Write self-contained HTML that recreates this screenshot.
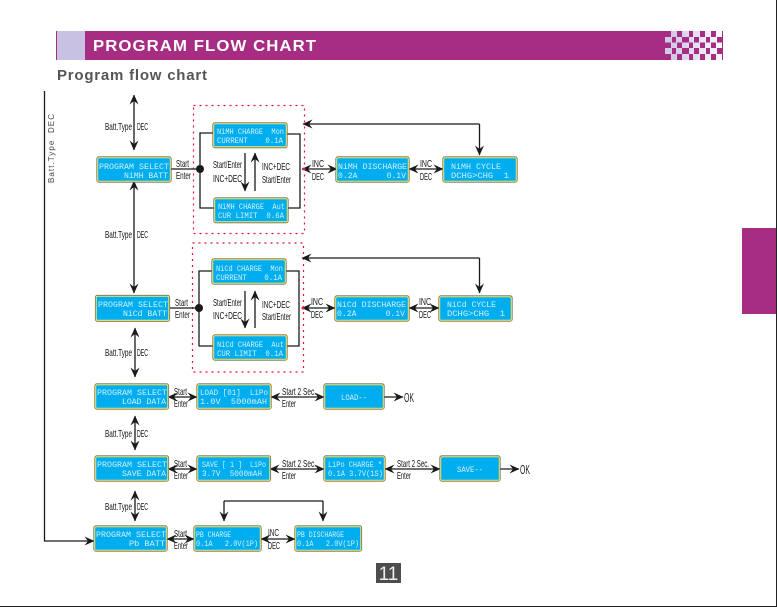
<!DOCTYPE html>
<html><head><meta charset="utf-8"><style>
html,body{margin:0;padding:0;background:#fff}
svg{display:block}
text{white-space:pre}
.l{font-family:"Liberation Sans",sans-serif;font-size:10.5px;fill:#111}
.d{font-family:"Liberation Mono",monospace;font-size:8.5px;fill:#d2f0fd}
.b{fill:#00aeef;stroke:#f4ec70;stroke-width:1.4}
.o{fill:none;stroke:#6b6b55;stroke-width:.8}
.c{fill:none;stroke:#1a1a1a;stroke-width:1.3}
.a{fill:none;stroke:#1a1a1a;stroke-width:1.3;marker-start:url(#m);marker-end:url(#m)}
.e{fill:none;stroke:#1a1a1a;stroke-width:1.3;marker-end:url(#m)}
.r{fill:none;stroke:#e8112d;stroke-width:1.2;stroke-dasharray:2 4}
</style></head><body>
<svg width="777" height="607" viewBox="0 0 777 607" xmlns="http://www.w3.org/2000/svg">
<defs>
<marker id="m" markerUnits="userSpaceOnUse" markerWidth="10" markerHeight="9" refX="9.5" refY="4.5" orient="auto-start-reverse" viewBox="0 0 10 9"><path d="M10,4.5 L0,0 L3.5,4.5 L0,9 Z" fill="#1a1a1a"/></marker>
<linearGradient id="ck" x1="0" x2="1" y1="0" y2="0"><stop offset="0" stop-color="#cfc8e8"/><stop offset=".6" stop-color="#e8e5f4"/><stop offset="1" stop-color="#fbfaff"/></linearGradient>
</defs>
<rect width="777" height="607" fill="#fff"/>
<rect x="776" y="0" width="1" height="607" fill="#222"/>
<rect x="0" y="606" width="777" height="1" fill="#222"/>
<rect x="742" y="228" width="34" height="86" fill="#a62d82"/>

<rect x="56" y="31" width="615" height="29" fill="#a62d82"/>
<rect x="57" y="31" width="28" height="29" fill="#c9c1e4"/>
<text transform="translate(93,51) scale(1.08,1)" font-family="Liberation Sans,sans-serif" font-weight="bold" font-size="15.5" fill="#fff" textLength="206.5" lengthAdjust="spacing">PROGRAM FLOW CHART</text>

<rect x="671" y="31" width="51" height="29" fill="url(#ck)"/>
<rect x="665" y="37" width="6" height="5.5" fill="#d0cae8"/><rect x="665" y="48" width="6" height="6" fill="#d0cae8"/>
<g fill="#a62d82">
<rect x="677" y="31" width="5" height="6"/><rect x="689" y="31" width="4" height="6"/><rect x="700" y="31" width="5" height="6"/><rect x="711" y="31" width="5" height="6"/><rect x="722" y="31" width="1" height="29"/>
<rect x="672" y="37" width="4" height="5.5"/><rect x="682" y="37" width="7" height="5.5"/><rect x="694" y="37" width="5" height="5.5"/><rect x="706" y="37" width="4" height="5.5"/><rect x="717" y="37" width="5" height="5.5"/>
<rect x="677" y="42.5" width="5" height="5.5"/><rect x="689" y="42.5" width="4" height="5.5"/><rect x="700" y="42.5" width="5" height="5.5"/><rect x="711" y="42.5" width="5" height="5.5"/>
<rect x="672" y="48" width="4" height="6"/><rect x="682" y="48" width="7" height="6"/><rect x="694" y="48" width="5" height="6"/><rect x="706" y="48" width="4" height="6"/><rect x="717" y="48" width="5" height="6"/>
<rect x="677" y="54" width="5" height="6"/><rect x="689" y="54" width="4" height="6"/><rect x="700" y="54" width="5" height="6"/><rect x="711" y="54" width="5" height="6"/>
</g>
<text x="57" y="80" font-family="Liberation Sans,sans-serif" font-weight="bold" font-size="15" fill="#555" textLength="150" lengthAdjust="spacing">Program flow chart</text>

<!-- left rail -->
<path class="e" d="M44.5,91 V541 H94"/>
<text transform="translate(54,183) rotate(-90)" font-family="Liberation Sans,sans-serif" font-size="8" fill="#444" textLength="69" lengthAdjust="spacing">Batt.Type  DEC</text>

<!-- vertical arrows -->
<path class="a" d="M134,95 V150"/><path class="a" d="M134,181 V293"/><path class="a" d="M135,328 V377"/><path class="a" d="M135,416 V450"/><path class="a" d="M135,491 V521"/>
<g class="l">
<text x="105" y="130" textLength="27" lengthAdjust="spacingAndGlyphs">Batt.Type</text><text x="137" y="130" textLength="11" lengthAdjust="spacingAndGlyphs">DEC</text>
<text x="105" y="238" textLength="27" lengthAdjust="spacingAndGlyphs">Batt.Type</text><text x="137" y="238" textLength="11" lengthAdjust="spacingAndGlyphs">DEC</text>
<text x="105" y="356" textLength="27" lengthAdjust="spacingAndGlyphs">Batt.Type</text><text x="137" y="356" textLength="11" lengthAdjust="spacingAndGlyphs">DEC</text>
<text x="105" y="437" textLength="27" lengthAdjust="spacingAndGlyphs">Batt.Type</text><text x="137" y="437" textLength="11" lengthAdjust="spacingAndGlyphs">DEC</text>
<text x="105" y="510" textLength="27" lengthAdjust="spacingAndGlyphs">Batt.Type</text><text x="137" y="510" textLength="11" lengthAdjust="spacingAndGlyphs">DEC</text>
</g>

<!-- dotted groups -->
<rect class="r" x="193.5" y="105.5" width="111" height="128"/>
<rect class="r" x="192.5" y="243" width="111" height="129"/>

<!-- NiMH connectors -->
<path class="c" d="M171,169 H200 M214,133 H200 V208 H214 M287,134 H300 V208 H288"/>
<circle cx="200" cy="169" r="4" fill="#1a1a1a"/>
<path class="e" d="M245,153 V191"/><path class="e" d="M255,191 V153"/>
<path class="e" d="M479.5,124 H303"/><path class="e" d="M479.5,124 V155"/>
<path class="a" d="M302,169 H337"/><path class="a" d="M409,169 H443"/>
<circle cx="304" cy="169" r="1.5" fill="#e0203a"/>

<!-- NiCd connectors -->
<path class="c" d="M169,308 H199 M212,271 H199 V346 H213 M286,271 H299 V346 H287"/>
<circle cx="199" cy="308" r="4" fill="#1a1a1a"/>
<path class="e" d="M245,291 V328"/><path class="e" d="M255,328 V291"/>
<path class="e" d="M479.5,258 H302"/><path class="e" d="M479.5,258 V293"/>
<path class="a" d="M302,308 H335"/><path class="a" d="M409,308 H439"/>
<circle cx="303" cy="308" r="1.5" fill="#e0203a"/>

<!-- rows -->
<path class="a" d="M168,397 H197"/><path class="a" d="M271,397 H324"/><path class="e" d="M384,397 H403"/>
<path class="a" d="M168,469 H197"/><path class="a" d="M270,469 H324"/><path class="a" d="M385,469 H440"/><path class="e" d="M500,469 H519"/>
<path class="a" d="M167,539 H194"/><path class="a" d="M261,539 H295"/>
<path class="c" d="M224,501 H323"/><path class="e" d="M224,501 V521"/><path class="e" d="M323,501 V521"/>

<!-- labels -->
<g class="l">
<text x="176" y="167" textLength="13" lengthAdjust="spacingAndGlyphs">Start</text><text x="176" y="179" textLength="15" lengthAdjust="spacingAndGlyphs">Enter</text>
<text x="213" y="168" textLength="29" lengthAdjust="spacingAndGlyphs">Start/Enter</text><text x="213" y="182" textLength="29" lengthAdjust="spacingAndGlyphs">INC+DEC</text>
<text x="262" y="170" textLength="28" lengthAdjust="spacingAndGlyphs">INC+DEC</text><text x="262" y="183" textLength="29" lengthAdjust="spacingAndGlyphs">Start/Enter</text>
<text x="312" y="167" textLength="12" lengthAdjust="spacingAndGlyphs">INC</text><text x="312" y="180" textLength="12" lengthAdjust="spacingAndGlyphs">DEC</text>
<text x="420" y="167" textLength="12" lengthAdjust="spacingAndGlyphs">INC</text><text x="420" y="180" textLength="12" lengthAdjust="spacingAndGlyphs">DEC</text>

<text x="175" y="306" textLength="13" lengthAdjust="spacingAndGlyphs">Start</text><text x="175" y="318" textLength="15" lengthAdjust="spacingAndGlyphs">Enter</text>
<text x="213" y="306" textLength="29" lengthAdjust="spacingAndGlyphs">Start/Enter</text><text x="213" y="319" textLength="29" lengthAdjust="spacingAndGlyphs">INC+DEC</text>
<text x="262" y="308" textLength="28" lengthAdjust="spacingAndGlyphs">INC+DEC</text><text x="262" y="320" textLength="29" lengthAdjust="spacingAndGlyphs">Start/Enter</text>
<text x="311" y="305" textLength="12" lengthAdjust="spacingAndGlyphs">INC</text><text x="311" y="318" textLength="12" lengthAdjust="spacingAndGlyphs">DEC</text>
<text x="419" y="305" textLength="12" lengthAdjust="spacingAndGlyphs">INC</text><text x="419" y="318" textLength="12" lengthAdjust="spacingAndGlyphs">DEC</text>

<text x="174" y="395" textLength="13" lengthAdjust="spacingAndGlyphs">Start</text><text x="174" y="407" textLength="14" lengthAdjust="spacingAndGlyphs">Enter</text>
<text x="282" y="395" textLength="34" lengthAdjust="spacingAndGlyphs">Start 2 Sec.</text><text x="282" y="407" textLength="14" lengthAdjust="spacingAndGlyphs">Enter</text>

<text x="174" y="467" textLength="13" lengthAdjust="spacingAndGlyphs">Start</text><text x="174" y="479" textLength="14" lengthAdjust="spacingAndGlyphs">Enter</text>
<text x="282" y="467" textLength="34" lengthAdjust="spacingAndGlyphs">Start 2 Sec.</text><text x="282" y="479" textLength="14" lengthAdjust="spacingAndGlyphs">Enter</text>
<text x="397" y="467" textLength="32" lengthAdjust="spacingAndGlyphs">Start 2 Sec.</text><text x="397" y="479" textLength="14" lengthAdjust="spacingAndGlyphs">Enter</text>

<text x="174" y="537" textLength="13" lengthAdjust="spacingAndGlyphs">Start</text><text x="174" y="549" textLength="14" lengthAdjust="spacingAndGlyphs">Enter</text>
<text x="268" y="536" textLength="11" lengthAdjust="spacingAndGlyphs">INC</text><text x="268" y="549" textLength="12" lengthAdjust="spacingAndGlyphs">DEC</text>
</g>
<text x="404" y="402" font-family="Liberation Sans,sans-serif" font-size="13" fill="#222" textLength="10" lengthAdjust="spacingAndGlyphs">OK</text>
<text x="520" y="474" font-family="Liberation Sans,sans-serif" font-size="13" fill="#222" textLength="10" lengthAdjust="spacingAndGlyphs">OK</text>

<!-- LCD boxes -->
<g>
<rect class="b" x="97.5" y="157.5" width="73" height="24" rx="1.5"/><rect class="o" x="96.8" y="156.8" width="74.4" height="25.4" rx="2"/>
<rect class="b" x="213.5" y="123.5" width="73" height="23.5" rx="1.5"/><rect class="o" x="212.8" y="122.8" width="74.4" height="25" rx="2"/>
<rect class="b" x="214.5" y="198.5" width="73" height="23.5" rx="1.5"/><rect class="o" x="213.8" y="197.8" width="74.4" height="25" rx="2"/>
<rect class="b" x="336.5" y="157.5" width="72" height="24" rx="1.5"/><rect class="o" x="335.8" y="156.8" width="73.4" height="25.4" rx="2"/>
<rect class="b" x="443.5" y="157.5" width="73" height="24" rx="1.5"/><rect class="o" x="442.8" y="156.8" width="74.4" height="25.4" rx="2"/>

<rect class="b" x="96" y="296" width="73" height="24.5" rx="1.5"/><rect class="o" x="95.3" y="295.3" width="74.4" height="26" rx="2"/>
<rect class="b" x="212.5" y="259.5" width="73" height="24" rx="1.5"/><rect class="o" x="211.8" y="258.8" width="74.4" height="25.4" rx="2"/>
<rect class="b" x="213.5" y="335.5" width="73" height="24" rx="1.5"/><rect class="o" x="212.8" y="334.8" width="74.4" height="25.4" rx="2"/>
<rect class="b" x="335.5" y="296.5" width="73" height="24" rx="1.5"/><rect class="o" x="334.8" y="295.8" width="74.4" height="25.4" rx="2"/>
<rect class="b" x="439.5" y="296.5" width="72" height="24" rx="1.5"/><rect class="o" x="438.8" y="295.8" width="73.4" height="25.4" rx="2"/>

<rect class="b" x="95.5" y="384.5" width="72.5" height="24" rx="1.5"/><rect class="o" x="94.8" y="383.8" width="73.9" height="25.4" rx="2"/>
<rect class="b" x="197.5" y="384.5" width="73" height="24" rx="1.5"/><rect class="o" x="196.8" y="383.8" width="74.4" height="25.4" rx="2"/>
<rect class="b" x="324.5" y="384.5" width="59" height="24" rx="1.5"/><rect class="o" x="323.8" y="383.8" width="60.4" height="25.4" rx="2"/>

<rect class="b" x="95.5" y="456.5" width="72.5" height="24" rx="1.5"/><rect class="o" x="94.8" y="455.8" width="73.9" height="25.4" rx="2"/>
<rect class="b" x="197.5" y="456.5" width="72.5" height="24" rx="1.5"/><rect class="o" x="196.8" y="455.8" width="73.9" height="25.4" rx="2"/>
<rect class="b" x="324.5" y="456.5" width="60" height="24" rx="1.5"/><rect class="o" x="323.8" y="455.8" width="61.4" height="25.4" rx="2"/>
<rect class="b" x="440.5" y="456.5" width="59" height="24" rx="1.5"/><rect class="o" x="439.8" y="455.8" width="60.4" height="25.4" rx="2"/>

<rect class="b" x="94.5" y="526.5" width="72" height="24" rx="1.5"/><rect class="o" x="93.8" y="525.8" width="73.4" height="25.4" rx="2"/>
<rect class="b" x="194.5" y="526.5" width="66" height="24" rx="1.5"/><rect class="o" x="193.8" y="525.8" width="67.4" height="25.4" rx="2"/>
<rect class="b" x="295.5" y="526.5" width="65.5" height="24" rx="1.5"/><rect class="o" x="294.8" y="525.8" width="66.9" height="25.4" rx="2"/>
</g>

<g class="d">
<text x="99" y="169" textLength="70" lengthAdjust="spacingAndGlyphs">PROGRAM SELECT</text><text x="124" y="178" textLength="44" lengthAdjust="spacingAndGlyphs">NiMH BATT</text>
<text x="217" y="134" textLength="67" lengthAdjust="spacingAndGlyphs">NiMH CHARGE  Mon</text><text x="217" y="143" textLength="66" lengthAdjust="spacingAndGlyphs">CURRENT    0.1A</text>
<text x="218" y="209" textLength="67" lengthAdjust="spacingAndGlyphs">NiMH CHARGE  Aut</text><text x="218" y="218" textLength="66" lengthAdjust="spacingAndGlyphs">CUR LIMIT  0.6A</text>
<text x="338" y="169" textLength="69" lengthAdjust="spacingAndGlyphs">NiMH DISCHARGE</text><text x="338" y="178" textLength="68" lengthAdjust="spacingAndGlyphs">0.2A      0.1V</text>
<text x="451" y="169" textLength="50" lengthAdjust="spacingAndGlyphs">NiMH CYCLE</text><text x="451" y="178" textLength="58" lengthAdjust="spacingAndGlyphs">DCHG&gt;CHG  1</text>

<text x="98" y="307" textLength="70" lengthAdjust="spacingAndGlyphs">PROGRAM SELECT</text><text x="123" y="316" textLength="44" lengthAdjust="spacingAndGlyphs">NiCd BATT</text>
<text x="216" y="271" textLength="67" lengthAdjust="spacingAndGlyphs">NiCd CHARGE  Mon</text><text x="216" y="280" textLength="66" lengthAdjust="spacingAndGlyphs">CURRENT    0.1A</text>
<text x="217" y="347" textLength="67" lengthAdjust="spacingAndGlyphs">NiCd CHARGE  Aut</text><text x="217" y="356" textLength="66" lengthAdjust="spacingAndGlyphs">CUR LIMIT  0.1A</text>
<text x="337" y="307" textLength="69" lengthAdjust="spacingAndGlyphs">NiCd DISCHARGE</text><text x="337" y="316" textLength="68" lengthAdjust="spacingAndGlyphs">0.2A      0.1V</text>
<text x="447" y="307" textLength="49" lengthAdjust="spacingAndGlyphs">NiCd CYCLE</text><text x="447" y="316" textLength="58" lengthAdjust="spacingAndGlyphs">DCHG&gt;CHG  1</text>

<text x="97" y="395" textLength="70" lengthAdjust="spacingAndGlyphs">PROGRAM SELECT</text><text x="122" y="404" textLength="44" lengthAdjust="spacingAndGlyphs">LOAD DATA</text>
<text x="200" y="395" textLength="68" lengthAdjust="spacingAndGlyphs">LOAD [01]  LiPo</text><text x="200" y="404" textLength="67" lengthAdjust="spacingAndGlyphs">1.0V  5000mAH</text>
<text x="341" y="400" textLength="26" lengthAdjust="spacingAndGlyphs">LOAD--</text>

<text x="97" y="467" textLength="70" lengthAdjust="spacingAndGlyphs">PROGRAM SELECT</text><text x="122" y="476" textLength="44" lengthAdjust="spacingAndGlyphs">SAVE DATA</text>
<text x="202" y="467" textLength="64" lengthAdjust="spacingAndGlyphs">SAVE [ 1 ]  LiPo</text><text x="202" y="476" textLength="60" lengthAdjust="spacingAndGlyphs">3.7V  5000mAH</text>
<text x="328" y="467" textLength="54" lengthAdjust="spacingAndGlyphs">LiPo CHARGE *</text><text x="328" y="476" textLength="55" lengthAdjust="spacingAndGlyphs">0.1A 3.7V(1S)</text>
<text x="457" y="472" textLength="26" lengthAdjust="spacingAndGlyphs">SAVE--</text>

<text x="96" y="537" textLength="70" lengthAdjust="spacingAndGlyphs">PROGRAM SELECT</text><text x="129" y="546" textLength="36" lengthAdjust="spacingAndGlyphs">Pb BATT</text>
<text x="196" y="537" textLength="35" lengthAdjust="spacingAndGlyphs">PB CHARGE</text><text x="196" y="546" textLength="62" lengthAdjust="spacingAndGlyphs">0.1A   2.0V(1P)</text>
<text x="297" y="537" textLength="47" lengthAdjust="spacingAndGlyphs">PB DISCHARGE</text><text x="297" y="546" textLength="62" lengthAdjust="spacingAndGlyphs">0.1A   2.0V(1P)</text>
</g>

<rect x="376" y="563" width="25" height="20" fill="#4d4d4d"/>
<text x="388.5" y="580" text-anchor="middle" font-family="Liberation Sans,sans-serif" font-size="19" fill="#eee">11</text>
</svg>
</body></html>
